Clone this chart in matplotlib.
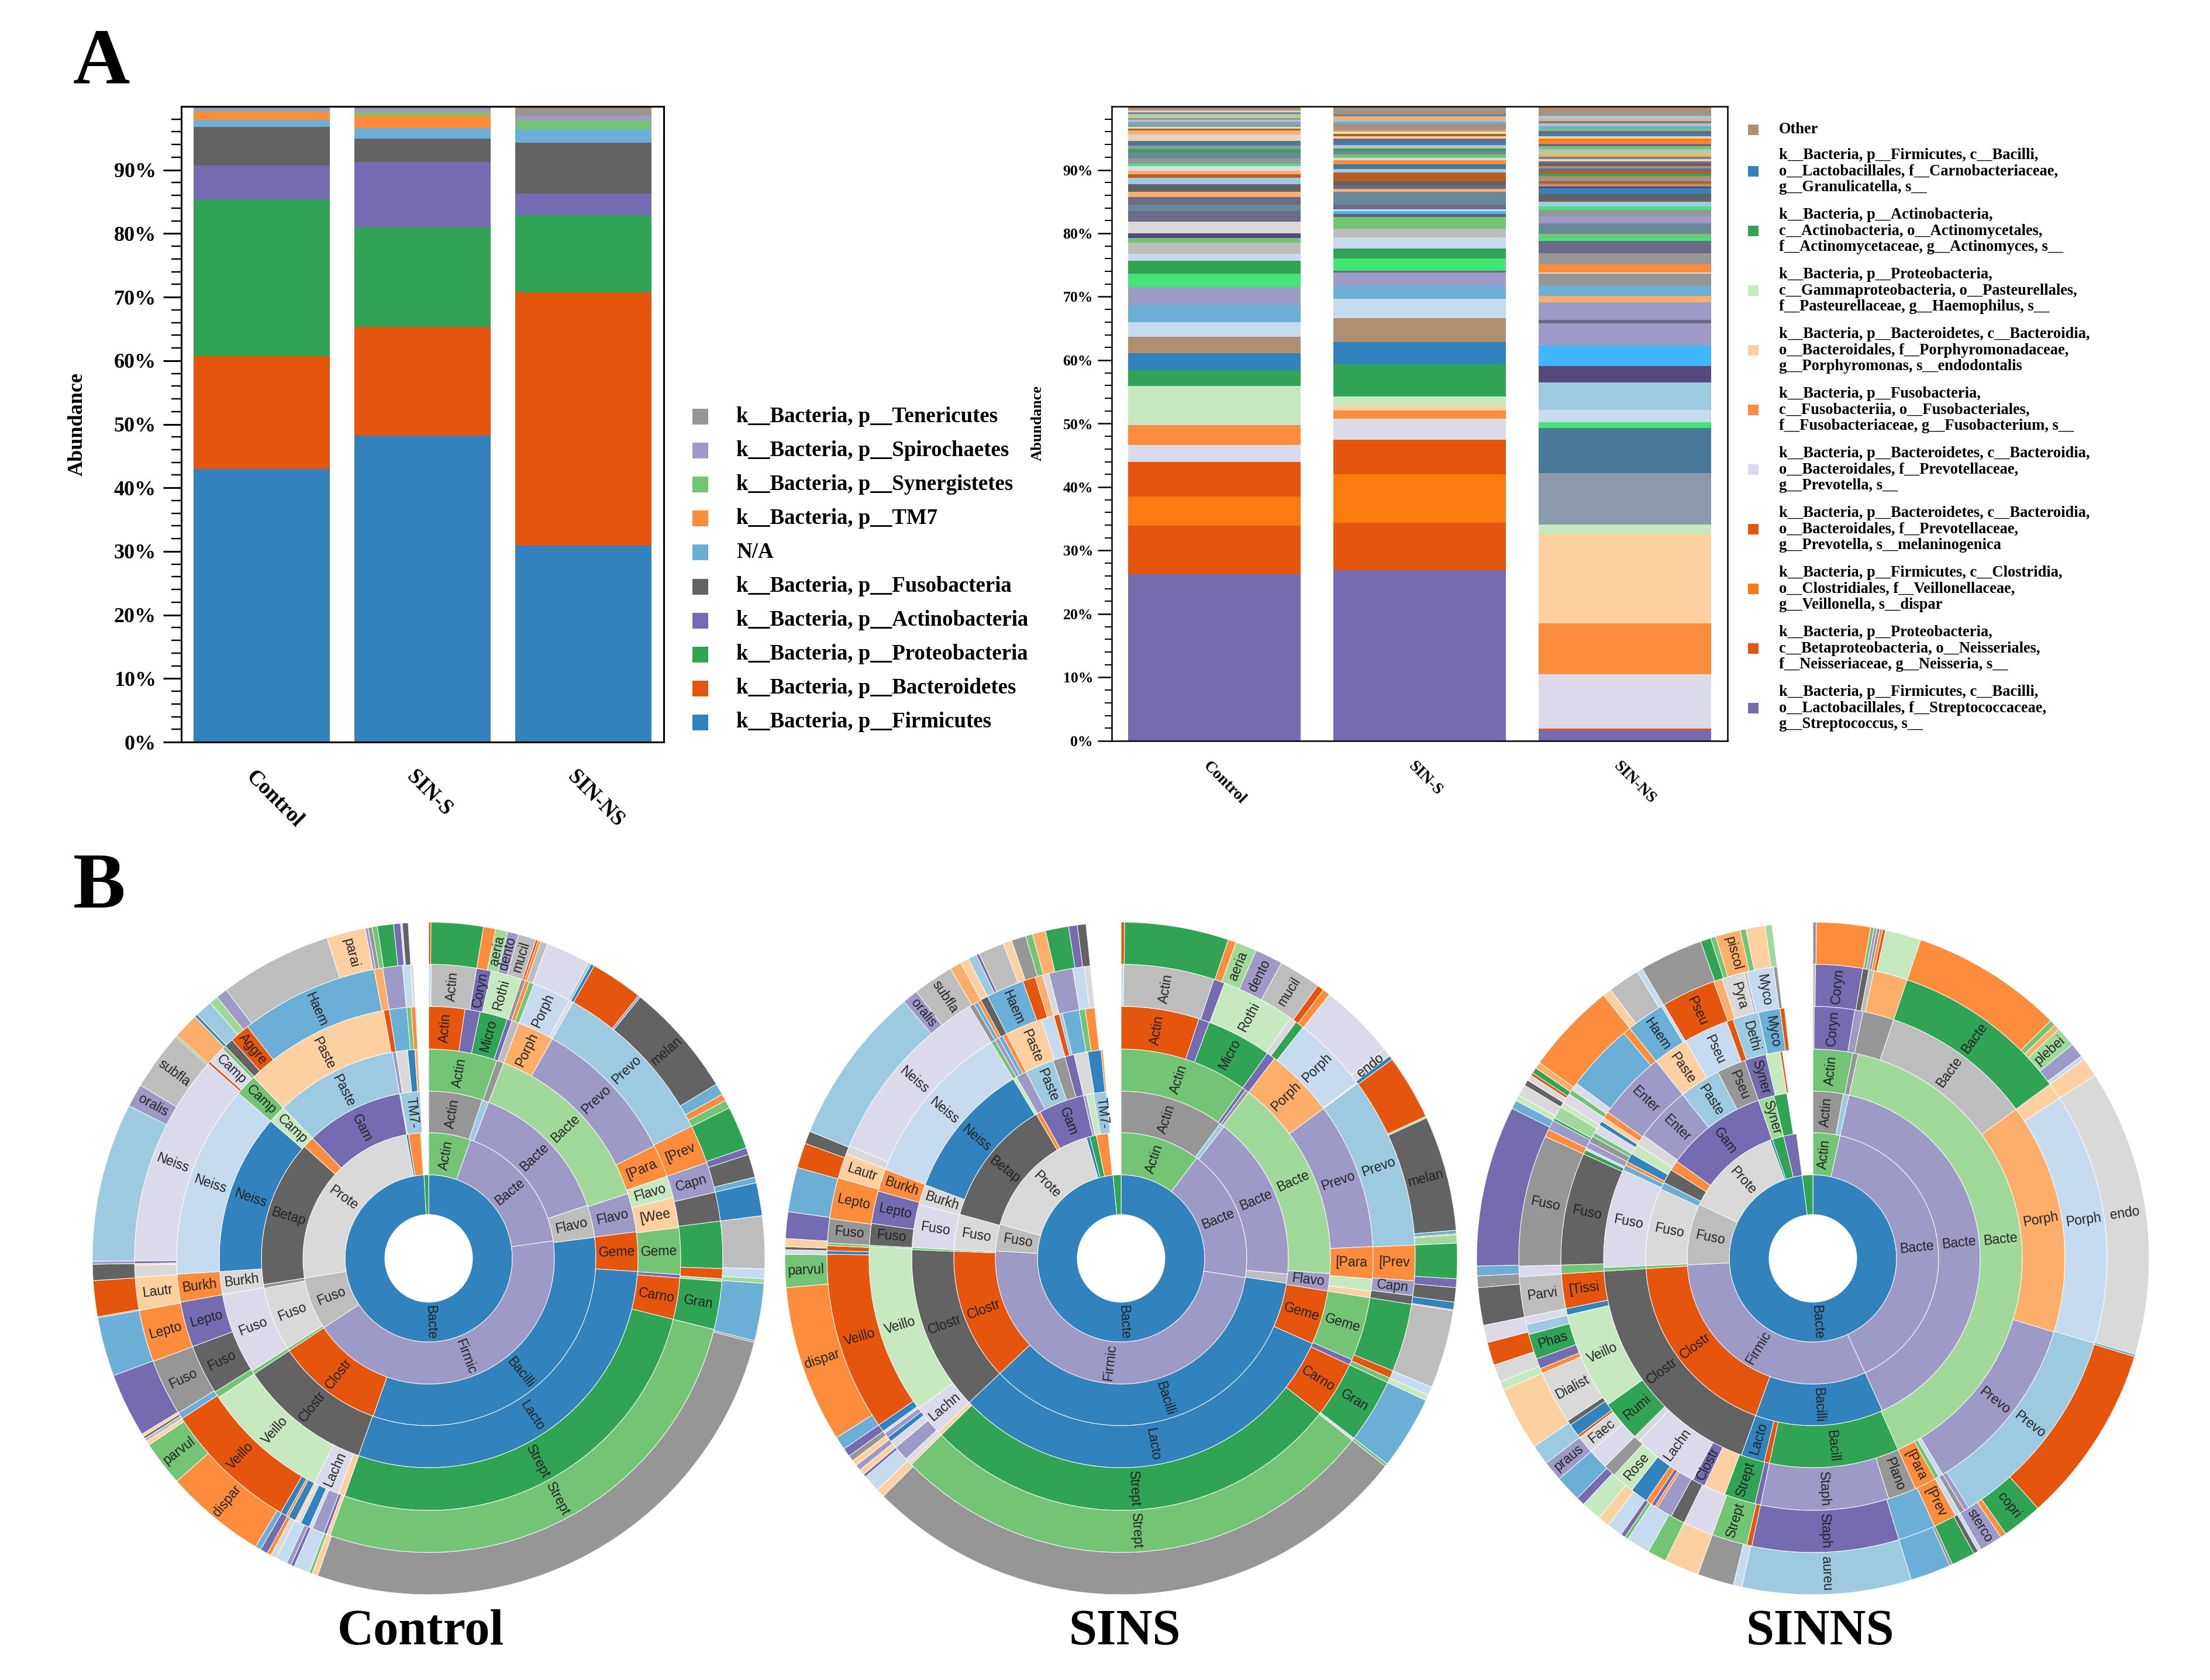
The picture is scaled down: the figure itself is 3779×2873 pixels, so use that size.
import numpy as np
import matplotlib
matplotlib.use("Agg")
import matplotlib.pyplot as plt
from matplotlib.patches import Rectangle

W, H = 3780, 2873
SERIF = "Liberation Serif"
SANS = "Liberation Sans"

colors = {
    "b": "#3182bd", "o": "#e6550d", "g": "#31a354", "p": "#756bb1", "k": "#636363",
    "b1": "#6baed6", "o1": "#fd8d3c", "g1": "#74c476", "p1": "#9e9ac8", "k1": "#969696",
    "b2": "#9ecae1", "o2": "#fdae6b", "g2": "#a1d99b", "p2": "#bcbddc", "k2": "#bdbdbd",
    "b3": "#c6dbef", "o3": "#fdd0a2", "g3": "#c7e9c0", "p3": "#dadaeb", "k3": "#d9d9d9",
    "ora": "#fd7a10", "bro": "#b08f70", "brt": "#41e675", "tea": "#6a8899", "sla": "#6c6a88",
    "ust": "#b55d24", "sky": "#41b6ff", "nav": "#55487a", "dte": "#4a7898", "gry": "#8a9aaa",
}

groups = ["Control", "SIN-S", "SIN-NS"]

# phylum level, cumulative tops in percent
phyla = ["k__Bacteria, p__Firmicutes", "k__Bacteria, p__Bacteroidetes", "k__Bacteria, p__Proteobacteria",
         "k__Bacteria, p__Actinobacteria", "k__Bacteria, p__Fusobacteria", "N/A", "k__Bacteria, p__TM7",
         "k__Bacteria, p__Synergistetes", "k__Bacteria, p__Spirochaetes", "k__Bacteria, p__Tenericutes", ""]
phyla_colors = ["b", "o", "g", "p", "k", "b1", "o1", "g1", "p1", "k1", "bro"]
phyla_control = [43.0, 60.7, 85.4, 90.7, 96.8, 97.9, 99.2, 99.3, 99.7, 100.0, 100.0]
phyla_sins = [48.2, 65.3, 81.0, 91.3, 94.9, 96.6, 98.6, 99.2, 99.5, 99.8, 100.0]
phyla_sinns = [30.9, 70.7, 82.9, 86.3, 94.3, 96.4, 96.4, 97.8, 98.5, 99.5, 100.0]

# species level, every bar has its own stack
sp_control = [26.3, 33.9, 38.5, 44.0, 46.6, 49.8, 55.9, 58.4, 61.1, 63.7, 66.0, 68.8, 71.5, 73.6, 75.7, 76.8,
              78.5, 79.3, 80.0, 81.8, 83.5, 84.5, 85.7, 86.5, 87.7, 88.8, 89.3, 89.9, 90.6, 91.0, 91.8, 92.7,
              93.3, 93.8, 94.6, 95.2, 95.6, 96.2, 96.5, 96.8, 97.2, 97.6, 97.9, 98.2, 98.5, 98.8, 99.1, 99.4,
              99.7, 100.0]
sp_control_c = ["p", "o", "ora", "o", "p3", "o1", "g3", "g", "b", "bro", "b3", "b1", "p1", "brt", "g", "b3",
                "k2", "g1", "nav", "k3", "sla", "tea", "sla", "o2", "k", "b2", "ust", "o2", "p3", "brt", "k1",
                "tea", "g", "k1", "dte", "o3", "b3", "o2", "ust", "g3", "k1", "b1", "p2", "bro", "g2", "k2",
                "tea", "o3", "k1", "bro"]

sp_sins = [26.9, 34.4, 42.0, 47.5, 50.8, 52.1, 52.8, 54.3, 59.4, 62.9, 66.6, 69.7, 71.7, 73.8, 74.1, 76.0, 77.6,
           79.4, 80.7, 82.6, 83.0, 83.5, 83.8, 84.5, 85.7, 86.5, 87.0, 87.6, 88.2, 89.6, 90.1, 90.9, 91.5, 91.9,
           92.4, 93.0, 93.4, 93.9, 94.4, 94.9, 95.3, 95.7, 96.0, 96.3, 96.8, 97.2, 97.6, 98.0, 98.4, 98.8, 99.2,
           99.6, 100.0]
sp_sins_c = ["p", "o", "ora", "o", "p3", "o1", "o3", "g3", "g", "b", "bro", "b3", "b1", "p1", "sla", "brt", "g",
             "b3", "k2", "g1", "k", "sky", "p3", "sla", "tea", "tea", "o2", "sla", "k", "ust", "b2", "dte", "o1",
             "k3", "g1", "tea", "g", "k2", "b", "sla", "o3", "ust", "g3", "o1", "k1", "bro", "b1", "k2", "o2",
             "tea", "bro", "k1", "bro"]

sp_sinns = [1.7, 1.9, 10.5, 18.5, 32.6, 34.1, 42.2, 49.3, 50.2, 52.2, 56.5, 59.1, 62.3, 65.8, 66.4, 69.1, 70.1,
            71.7, 73.6, 73.8, 75.1, 76.9, 78.8, 79.4, 79.9, 81.6, 82.7, 83.7, 84.2, 85.0, 86.2, 87.1, 87.4, 87.8,
            88.2, 88.6, 89.0, 89.4, 89.8, 90.2, 90.6, 91.0, 91.3, 91.7, 92.1, 92.5, 92.9, 93.3, 93.7, 94.1, 94.5,
            94.9, 95.3, 95.7, 96.1, 96.5, 96.9, 97.3, 97.7, 98.1, 98.5, 99.0, 100.0]
sp_sinns_c = ["p", "o", "p3", "o1", "o3", "g3", "gry", "dte", "brt", "b3", "b2", "nav", "sky", "p1", "sla", "p1",
              "o2", "b1", "k1", "p3", "o1", "k1", "sla", "brt", "g1", "tea", "p1", "k1", "brt", "b2", "k", "b",
              "nav", "bro", "ust", "k1", "bro", "g", "ust", "sla", "bro", "k", "sla", "o3", "tea", "o2", "g2",
              "k2", "g1", "sla", "o1", "ora", "o3", "b", "sla", "g1", "b1", "k2", "tea", "o2", "b2", "k1", "bro"]

species_legend = [
    ("bro", "Other"),
    ("b", "k__Bacteria, p__Firmicutes, c__Bacilli,\no__Lactobacillales, f__Carnobacteriaceae,\ng__Granulicatella, s__"),
    ("g", "k__Bacteria, p__Actinobacteria,\nc__Actinobacteria, o__Actinomycetales,\nf__Actinomycetaceae, g__Actinomyces, s__"),
    ("g3", "k__Bacteria, p__Proteobacteria,\nc__Gammaproteobacteria, o__Pasteurellales,\nf__Pasteurellaceae, g__Haemophilus, s__"),
    ("o3", "k__Bacteria, p__Bacteroidetes, c__Bacteroidia,\no__Bacteroidales, f__Porphyromonadaceae,\ng__Porphyromonas, s__endodontalis"),
    ("o1", "k__Bacteria, p__Fusobacteria,\nc__Fusobacteriia, o__Fusobacteriales,\nf__Fusobacteriaceae, g__Fusobacterium, s__"),
    ("p3", "k__Bacteria, p__Bacteroidetes, c__Bacteroidia,\no__Bacteroidales, f__Prevotellaceae,\ng__Prevotella, s__"),
    ("o", "k__Bacteria, p__Bacteroidetes, c__Bacteroidia,\no__Bacteroidales, f__Prevotellaceae,\ng__Prevotella, s__melaninogenica"),
    ("ora", "k__Bacteria, p__Firmicutes, c__Clostridia,\no__Clostridiales, f__Veillonellaceae,\ng__Veillonella, s__dispar"),
    ("o", "k__Bacteria, p__Proteobacteria,\nc__Betaproteobacteria, o__Neisseriales,\nf__Neisseriaceae, g__Neisseria, s__"),
    ("p", "k__Bacteria, p__Firmicutes, c__Bacilli,\no__Lactobacillales, f__Streptococcaceae,\ng__Streptococcus, s__"),
]

# sunburst rings, inner to outer: (end angle clockwise from 12 o'clock, colour, label)
control_rings = [
    [(356.8, "b", "Bacte"), (360, "g", "")],
    [(19.5, "g1", "Actin"), (82, "p1", "Bacte"), (236.5, "p1", "Firmic"), (261, "k2", "Fuso"), (349.7, "k3", "Prote"),
     (350.7, "b", ""), (356.3, "o1", "")],
    [(18.7, "k1", "Actin"), (21, "b2", ""), (71.5, "p1", "Bacte"), (82.8, "k2", "Flavo"), (199.4, "b", "Bacilli"),
     (236.5, "o", "Clostr"), (237.5, "g1", ""), (259.7, "k3", "Fuso"), (261, "k1", ""), (312, "k", "Betap"),
     (316, "o1", ""), (350, "p", "Gam"), (350.3, "b", ""), (357, "b2", "TM7-")],
    [(19, "g1", "Actin"), (21, "k1", ""), (72, "g2", "Bacte"), (82.7, "p1", "Flavo"), (93.6, "o", "Geme"),
     (199.6, "b", "Lacto"), (236.5, "k", "Clostr"), (237.5, "g1", ""), (260, "p3", "Fuso"), (266.4, "k3", "Burkh"),
     (311, "b", "Neiss"), (316, "g3", "Camp"), (350, "b2", "Paste"), (351, "p1", ""), (354.2, "k3", ""),
     (356.2, "b", ""), (357, "o2", "")],
    [(8.3, "o", "Actin"), (11.8, "p", ""), (18.2, "g", "Micro"), (19.3, "p", ""), (21, "k2", ""), (29.4, "o2", "Porph"),
     (63.5, "p1", "Prevo"), (71, "o1", "[Para"), (76, "g3", "Flavo"), (83, "o3", "[Wee"), (93.7, "g1", "Geme"),
     (94.5, "p", ""), (104, "o", "Carno"), (199.5, "g", "Strept"), (201, "o3", ""), (207, "p3", "Lachn"),
     (236.5, "g3", "Veillo"), (238, "g1", ""), (249.5, "k", "Fuso"), (260, "p", "Lepto"), (266.4, "o1", "Burkh"),
     (311, "b3", "Neiss"), (316, "g1", "Camp"), (349.7, "o3", "Paste"), (351, "o", ""), (355, "b1", ""), (356, "g1", ""),
     (357, "o1", "")],
    [(0.5, "b3", ""), (9.4, "k2", "Actin"), (12.3, "p", "Coryn"), (18.4, "g3", "Rothi"), (19.2, "k1", ""), (20, "o1", ""),
     (21, "g1", ""), (28.6, "b3", "Porph"), (29.4, "p3", ""), (63.3, "b2", "Prevo"), (71, "o1", "[Prev"),
     (77, "p1", "Capn"), (82.7, "k", ""), (92, "g", ""), (94, "o", ""), (94.5, "g2", ""), (104, "g", "Gran"),
     (199.6, "g1", "Strept"), (200.3, "o3", ""), (200.9, "p", ""), (203.3, "p1", ""), (204, "p3", ""), (205.8, "b", ""),
     (206.5, "k3", ""), (207, "o3", ""), (208.5, "b", ""), (209, "o1", ""), (210.2, "b", ""), (237, "o", "Veillo"),
     (238.3, "b1", ""), (249.5, "k1", "Fuso"), (259.8, "o1", "Lepto"), (266.3, "o3", "Lautr"), (268.7, "k3", ""),
     (269, "o3", ""), (269.5, "p", ""), (311.5, "p3", "Neiss"), (312, "o", ""), (315.5, "p3", "Camp"), (316.2, "g1", ""),
     (318, "k", ""), (322, "o", "Aggre"), (349.3, "b1", "Haem"), (351, "o2", ""), (354.9, "p1", ""), (356.5, "b3", ""),
     (357, "k3", "")],
    [(0.4, "o", ""), (9.4, "g", ""), (11.5, "o1", ""), (13.6, "g2", "aeria"), (15.5, "p1", "dento"), (18.6, "k2", "mucil"),
     (19, "o", ""), (19.5, "o1", ""), (20.7, "k2", ""), (28.4, "p3", ""), (28.9, "b2", ""), (29.5, "b", ""), (38.6, "o", ""),
     (39, "p1", ""), (58.8, "k", "melan"), (60.8, "b1", ""), (62, "o1", ""), (63.4, "g1", ""), (70.8, "g", ""), (72, "p", ""),
     (76, "k", ""), (77, "b1", ""), (82.7, "b", ""), (91.8, "k2", ""), (93.5, "b3", ""), (94.3, "g2", ""), (104.2, "b1", ""),
     (104.5, "k1", ""), (199.3, "k1", ""), (200.3, "o3", ""), (200.8, "g1", ""), (203.6, "b3", ""), (204.2, "p", ""),
     (205, "p1", ""), (207, "b3", ""), (208, "k3", ""), (208.7, "o1", ""), (210, "p", ""), (211, "b1", ""),
     (228.5, "o1", "dispar"), (236.3, "g1", "parvul"), (237, "o3", ""), (237.6, "k2", ""), (238, "k", ""),
     (238.5, "o3", ""), (249.6, "p", ""), (259.8, "b1", ""), (260, "k1", ""), (266.2, "o", ""), (269, "k", ""),
     (269.5, "p1", ""), (297, "b2", ""), (301, "p1", "oralis"), (311.2, "k2", "subfla"), (311.5, "g1", ""), (316, "o2", ""),
     (316.5, "b", ""), (319.5, "b2", ""), (321, "g2", ""), (323, "p1", ""), (342.4, "k2", ""), (349.1, "o3", "parai"),
     (349.6, "p1", ""), (350.3, "k1", ""), (351.2, "g1", ""), (354, "g", ""), (355.2, "p", ""), (355.5, "b3", ""),
     (356.5, "k", "")],
]

sins_rings = [
    [(354.5, "b", "Bacte"), (360, "g", "")],
    [(37, "g1", "Actin"), (98.8, "p1", "Bacte"), (273.4, "p1", "Firmic"), (285.8, "k2", "Fuso"), (344, "k3", "Prote"),
     (345.5, "b", ""), (348.6, "g", ""), (354, "o1", "")],
    [(36.3, "k1", "Actin"), (38, "b2", ""), (95.4, "p1", "Bacte"), (98.6, "k2", ""), (226.5, "b", "Bacilli"),
     (272.5, "o", "Clostr"), (273, "g1", ""), (285.3, "k3", "Fuso"), (329.5, "k", "Betap"), (331, "o1", ""),
     (347, "p", "Gam"), (348, "p1", ""), (350.5, "g3", ""), (355, "b2", "TM7-")],
    [(35.5, "g1", "Actin"), (36.5, "p", ""), (37.5, "k1", ""), (94.2, "g2", "Bacte"), (99, "p1", "Flavo"),
     (114, "o", "Geme"), (226.5, "b", "Lacto"), (272.4, "k", "Clostr"), (273, "g1", ""), (285, "p3", "Fuso"),
     (290.6, "k3", "Burkh"), (329, "b", "Neiss"), (330, "g3", ""), (333, "p1", ""), (341, "b2", "Paste"), (344.4, "k1", ""),
     (347, "p", ""), (350.8, "k3", ""), (354.5, "b", ""), (355, "o1", "")],
    [(18, "o", "Actin"), (20.5, "p", ""), (35.5, "g", "Micro"), (37.5, "p", ""), (53.5, "o2", "Porph"),
     (87.3, "p1", "Prevo"), (94.7, "o1", "[Para"), (97.5, "g3", ""), (99, "o3", ""), (113.7, "g1", "Geme"), (115, "p", ""),
     (128, "o", "Carno"), (225.5, "g", "Strept"), (226.5, "o3", ""), (233.5, "p3", "Lachn"), (272.7, "g3", "Veillo"),
     (273, "g1", ""), (278, "k", "Fuso"), (285.5, "p", "Lepto"), (290.7, "o1", "Burkh"), (329, "b3", "Neiss"), (330, "g1", ""),
     (331, "p1", ""), (332, "b1", ""), (333, "o1", ""), (341.5, "o3", "Paste"), (344.5, "b3", ""), (345.8, "o", ""),
     (346.5, "b2", ""), (350.4, "b1", ""), (351.8, "g1", ""), (354, "o1", "")],
    [(0.5, "b3", ""), (18.4, "k2", "Actin"), (20.6, "p", ""), (35.2, "g3", "Rothi"), (36.5, "k3", ""), (38.2, "g", ""),
     (53.3, "b3", "Porph"), (53.5, "p3", ""), (87.4, "b2", "Prevo"), (94.4, "o1", "[Prev"), (97.3, "p1", "Capn"),
     (99, "k", ""), (112.5, "g", ""), (114, "o", ""), (115, "g1", ""), (127.7, "g", "Gran"), (128.2, "p3", ""),
     (225.5, "g1", "Strept"), (226, "o3", ""), (227, "p3", ""), (230, "p1", ""), (231.5, "p3", ""), (232.5, "b", ""),
     (233.5, "p1", ""), (234, "p3", ""), (235.5, "b", ""), (270.8, "o", "Veillo"), (271.5, "b", ""), (272.5, "o", ""),
     (273, "g1", ""), (277.8, "k1", "Fuso"), (285.9, "o1", "Lepto"), (290.8, "o3", "Lautr"), (292.5, "k3", ""),
     (329, "p3", "Neiss"), (330, "k1", ""), (330.8, "b1", ""), (331.5, "o1", ""), (333, "k", ""), (340.5, "b1", "Haem"),
     (343, "o", ""), (344.5, "o2", ""), (345.8, "k3", ""), (350.5, "p1", ""), (352.8, "b3", ""), (354, "k3", "")],
    [(0.6, "o", ""), (18.6, "g", ""), (20, "o1", ""), (23.7, "g2", "aeria"), (28.5, "p1", "dento"), (35.8, "k2", "mucil"),
     (37, "o", ""), (38.3, "o1", ""), (51.5, "p3", ""), (53, "k3", "endo"), (53.7, "b", ""), (65, "o", ""), (65.3, "g2", ""),
     (85.2, "k", "melan"), (85.8, "b1", ""), (86, "o1", ""), (87.4, "g2", ""), (93.5, "g", ""), (95, "p", ""), (97.5, "k", ""),
     (98.8, "b", ""), (99, "o1", ""), (112.5, "k2", ""), (114, "b3", ""), (115, "g3", ""), (127.7, "b1", ""), (128.2, "g1", ""),
     (225, "k1", ""), (226.5, "o3", ""), (229.5, "b3", ""), (230, "p", ""), (231, "o3", ""), (232, "p1", ""), (233, "o3", ""),
     (234, "k1", ""), (235.5, "p", ""), (237.8, "b1", ""), (265, "o1", "dispar"), (270.7, "g1", "parvul"), (271.5, "p3", ""),
     (272, "k", ""), (273.4, "o3", ""), (278, "p", ""), (285.7, "b1", ""), (290, "o", ""), (292.2, "k", ""), (319.8, "b2", ""),
     (322.5, "p1", "oralis"), (329.5, "k2", "subfla"), (331.5, "o2", ""), (333, "o3", ""), (334.5, "b2", ""), (335, "p", ""),
     (339.5, "k2", ""), (341, "o3", ""), (343.5, "k1", ""), (344.7, "g1", ""), (347, "o2", ""), (351, "g", ""), (352.5, "p", ""),
     (354, "k", "")],
]

sinns_rings = [
    [(352.6, "b", "Bacte"), (360, "g", "")],
    [(12.5, "g1", "Actin"), (155.5, "p1", "Bacte"), (267, "p1", "Firmic"), (295.5, "k2", "Fuso"), (340.2, "k3", "Prote"),
     (341.2, "b", ""), (346.5, "g", ""), (352.5, "p", "")],
    [(10.5, "k1", "Actin"), (12.5, "b2", ""), (155.5, "p1", "Bacte"), (200, "b", "Bacilli"), (266.5, "o", "Clostr"),
     (267.5, "g1", ""), (294.5, "k3", "Fuso"), (297, "b1", ""), (302, "k", ""), (305.5, "o1", ""), (341, "p", "Gam"),
     (346.5, "g2", "Syner"), (351, "g", "")],
    [(11, "g1", "Actin"), (12.5, "k1", ""), (156, "g2", "Bacte"), (192, "g", "Bacill"), (193.5, "o", ""), (200, "b", "Lacto"),
     (266.5, "k", "Clostr"), (267.5, "g1", ""), (295, "p3", "Fuso"), (296.5, "b1", ""), (297.5, "o1", ""), (300, "b", ""),
     (303, "g3", ""), (306, "k3", ""), (321.5, "p1", "Enter"), (333, "b2", "Paste"), (341, "k1", "Pseu"), (347, "p", "Syner"),
     (351, "g3", ""), (351.6, "o", "")],
    [(0.3, "k1", ""), (9.6, "p", "Coryn"), (11.5, "p1", ""), (18.7, "k1", ""), (53.7, "k2", "Bacte"), (107, "o2", "Porph"),
     (149, "p1", "Prevo"), (150, "b3", ""), (151, "g1", ""), (156, "o1", "[Para"), (162.5, "k1", "Plano"), (192, "p1", "Staph"),
     (193.3, "p", ""), (200.5, "g", "Strept"), (205.5, "o3", ""), (208.5, "p", "Clostr"), (223.5, "p3", "Lachn"),
     (225, "k3", ""), (234.5, "g", "Rumi"), (257, "g3", "Veillo"), (258.5, "b", ""), (266.5, "o", "[Tissi"), (268.5, "g1", ""),
     (294.5, "k", "Fuso"), (295.5, "g", ""), (296, "b3", ""), (297.5, "p1", ""), (299, "k1", ""), (300, "g1", ""),
     (302, "p3", ""), (303, "b", ""), (304, "o3", ""), (305.5, "o1", ""), (321.5, "p1", "Enter"), (329.6, "o3", "Paste"),
     (340, "b3", "Pseu"), (341.5, "o", ""), (347.5, "b2", "Dethi"), (352.5, "b1", "Myco"), (353.5, "o", "")],
    [(0.5, "k2", ""), (9.8, "p", "Coryn"), (11, "k", ""), (12, "k2", ""), (18.7, "o2", ""), (53.7, "g", "Bacte"), (57, "o3", ""),
     (106.8, "b3", "Porph"), (148, "b2", "Prevo"), (149, "p1", ""), (150, "k1", ""), (151, "b3", ""), (155.6, "o1", "[Prev"),
     (163, "b1", ""), (192, "p", "Staph"), (193, "o", ""), (200, "g1", "Strept"), (206, "p3", ""), (208.8, "k", ""), (212, "p1", ""),
     (212.5, "o1", ""), (213.3, "p", ""), (214.5, "o1", ""), (218, "b", ""), (222.5, "g3", "Rose"), (225, "k1", ""), (229, "p3", ""),
     (232.5, "k3", "Faec"), (233, "o", ""), (235.5, "b", ""), (236.5, "k", ""), (247, "k3", "Dialist"), (248, "o1", ""),
     (250, "p", ""), (255, "g", "Phas"), (257, "b2", ""), (258.5, "p3", ""), (266.4, "k2", "Parvi"), (268.5, "p3", ""),
     (294.5, "k1", "Fuso"), (296, "o1", ""), (298, "p1", ""), (298.5, "g", ""), (301, "g2", ""), (302, "g3", ""), (304, "p3", ""),
     (305, "g1", ""), (306.5, "p3", ""), (320, "b1", ""), (321.5, "o1", ""), (329, "b1", "Haem"), (329.6, "b3", ""),
     (340.3, "o", "Pseu"), (342, "o2", ""), (346.5, "k3", "Pyra"), (347, "k2", ""), (352.3, "b3", "Myco"), (353, "k1", "")],
    [(0.6, "k1", ""), (9.9, "o1", ""), (10.5, "g1", ""), (11, "p1", ""), (11.5, "k1", ""), (12, "o1", ""), (12.5, "o", ""),
     (18.7, "g3", ""), (45, "o1", ""), (46, "g1", ""), (47, "o2", ""), (50.5, "g2", "plebei"), (53, "p1", ""), (53.7, "b3", ""),
     (57, "o3", ""), (106.6, "k3", "endo"), (107, "b1", ""), (138, "o", ""), (145, "g", "copri"), (146, "o1", ""),
     (150, "p1", "sterco"), (150.6, "b3", ""), (151.4, "k", ""), (155.5, "g", ""), (156, "k1", ""), (163, "b1", ""),
     (192.2, "b2", "aureu"), (193.7, "b3", ""), (200, "k1", ""), (206, "o3", ""), (209.3, "g1", ""), (213.4, "b3", ""),
     (214, "g1", ""), (214.8, "p", ""), (217.5, "b3", ""), (219.5, "o3", ""), (223, "g3", ""), (224.5, "p", ""), (229, "b1", ""),
     (232.5, "p1", "praus"), (236, "b2", ""), (247, "o3", ""), (248.5, "g3", ""), (251.5, "k3", ""), (255.5, "o", ""),
     (258.5, "p3", ""), (265, "k", ""), (267, "k1", ""), (268.7, "b1", ""), (296.5, "p", ""), (298, "b1", ""), (299, "g3", ""),
     (301, "k3", ""), (302, "k", ""), (303, "k3", ""), (303.5, "o", ""), (304.5, "g", ""), (305.6, "o2", ""), (321.5, "o1", ""),
     (323, "o3", ""), (328.5, "k2", ""), (329.5, "b3", ""), (340.5, "k1", ""), (342.3, "g", ""), (343.2, "g1", ""),
     (347.5, "o2", "piscol"), (348.5, "g1", ""), (351.8, "o3", ""), (353, "g2", "")],
]


def pixel_axes(fig, x0, y0, x1, y1, **kw):
    return fig.add_axes([x0 / W, 1 - y1 / H, (x1 - x0) / W, (y1 - y0) / H], **kw)


def style_bar_axes(ax, fs, maj, mino, lw, pad):
    ax.set_xlim(-0.5, 2.5)
    ax.set_ylim(0, 100)
    ax.set_yticks(np.arange(0, 100, 10))
    ax.set_yticks(np.arange(0, 100, 2), minor=True)
    ax.set_yticklabels(["%d%%" % v for v in range(0, 100, 10)], family=SERIF, weight="bold", fontsize=fs)
    ax.tick_params(axis="y", which="major", length=maj, width=lw, pad=pad)
    ax.tick_params(axis="y", which="minor", length=mino, width=lw * 0.8)
    ax.set_xticks([])
    for s in ax.spines.values():
        s.set_linewidth(lw)


def draw_phyla(fig):
    ax = pixel_axes(fig, 310, 182, 1135, 1269)
    for i, tops in enumerate([phyla_control, phyla_sins, phyla_sinns]):
        bottoms = [0] + tops[:-1]
        for top, bot, c in zip(tops, bottoms, phyla_colors):
            ax.bar(i, top - bot, bottom=bot, width=0.846, color=colors[c], linewidth=0)
    style_bar_axes(ax, 26, 22, 12, 2.2, 9)
    for i, g in enumerate(groups):
        ax.annotate(g, xy=(i, 0), xycoords=("data", "axes fraction"), xytext=(-22, -54), textcoords="offset pixels",
                    rotation=-45, rotation_mode="anchor", ha="left", va="center",
                    family=SERIF, weight="bold", fontsize=26.5)


def draw_species(fig):
    ax = pixel_axes(fig, 1901, 182, 2954, 1267)
    stacks = [(sp_control, sp_control_c), (sp_sins, sp_sins_c), (sp_sinns, sp_sinns_c)]
    for i, (tops, cols) in enumerate(stacks):
        bottoms = [0] + tops[:-1]
        for top, bot, c in zip(tops, bottoms, cols):
            ax.bar(i, top - bot, bottom=bot, width=0.84, color=colors[c], linewidth=0)
    style_bar_axes(ax, 18.5, 17, 9, 1.8, 6)
    for i, g in enumerate(groups):
        ax.annotate(g, xy=(i, 0), xycoords=("data", "axes fraction"), xytext=(-15, -39), textcoords="offset pixels",
                    rotation=-45, rotation_mode="anchor", ha="left", va="center",
                    family=SERIF, weight="bold", fontsize=20)


def draw_sunburst(fig, rings, cx, cy):
    radii = [75, 143, 215, 286, 358, 431, 503, 575]
    ax = pixel_axes(fig, cx - 575, cy - 575, cx + 575, cy + 575, projection="polar")
    ax.set_theta_zero_location("N")
    ax.set_theta_direction(-1)
    ax.set_ylim(0, 575)
    ax.axis("off")
    for n, ring in enumerate(rings):
        r0, r1 = radii[n], radii[n + 1]
        start = 0
        for end, c, label in ring:
            ax.bar(np.deg2rad(start), r1 - r0, width=np.deg2rad(end - start), bottom=r0, align="edge",
                   color=colors[c], edgecolor="white", linewidth=0.7)
            if label:
                mid = (start + end) / 2
                rot = 90 - mid if mid < 180 else 270 - mid
                ax.text(np.deg2rad(mid), (r0 + r1) / 2, label, rotation=rot, rotation_mode="anchor",
                        ha="center", va="center", family=SANS, fontsize=16.5, color="#222222")
            start = end


def draw_overlay(fig):
    ov = fig.add_axes([0, 0, 1, 1], zorder=5)
    ov.set_xlim(0, W)
    ov.set_ylim(H, 0)
    ov.axis("off")

    ov.text(125, 143, "A", family=SERIF, weight="bold", fontsize=97, va="baseline")
    ov.text(125, 1552, "B", family=SERIF, weight="bold", fontsize=97, va="baseline")
    ov.text(132, 726, "Abundance", family=SERIF, weight="bold", fontsize=26, rotation=90, ha="center", va="center")
    ov.text(1774, 724, "Abundance", family=SERIF, weight="bold", fontsize=19, rotation=90, ha="center", va="center")

    # phylum legend, top row is the last series
    rows = [i for i, n in enumerate(phyla) if n][::-1]
    for k, i in enumerate(rows):
        y = 712 + k * 58.1
        ov.add_patch(Rectangle((1184, y - 13), 27, 27, color=colors[phyla_colors[i]], lw=0))
        ov.text(1259, y, phyla[i], family=SERIF, weight="bold", fontsize=26.6, va="center")

    y = 222
    for k, (c, name) in enumerate(species_legend):
        if k:
            y = 293 + (k - 1) * 102
        ov.add_patch(Rectangle((2989, y - 9), 18, 18, color=colors[c], lw=0))
        ov.text(3042, y, name, family=SERIF, weight="bold", fontsize=19.1, va="center", linespacing=1.15)

    for name, x in [("Control", 719), ("SINS", 1923), ("SINNS", 3112)]:
        ov.text(x, 2812, name, family=SERIF, weight="bold", fontsize=62, ha="center", va="baseline")


if __name__ == '__main__':
    fig = plt.figure(figsize=(W / 100, H / 100), dpi=100)
    draw_phyla(fig)
    draw_species(fig)
    draw_sunburst(fig, control_rings, 733, 2152)
    draw_sunburst(fig, sins_rings, 1917, 2152)
    draw_sunburst(fig, sinns_rings, 3100, 2152)
    draw_overlay(fig)
    fig.savefig("out.png", dpi=100)
